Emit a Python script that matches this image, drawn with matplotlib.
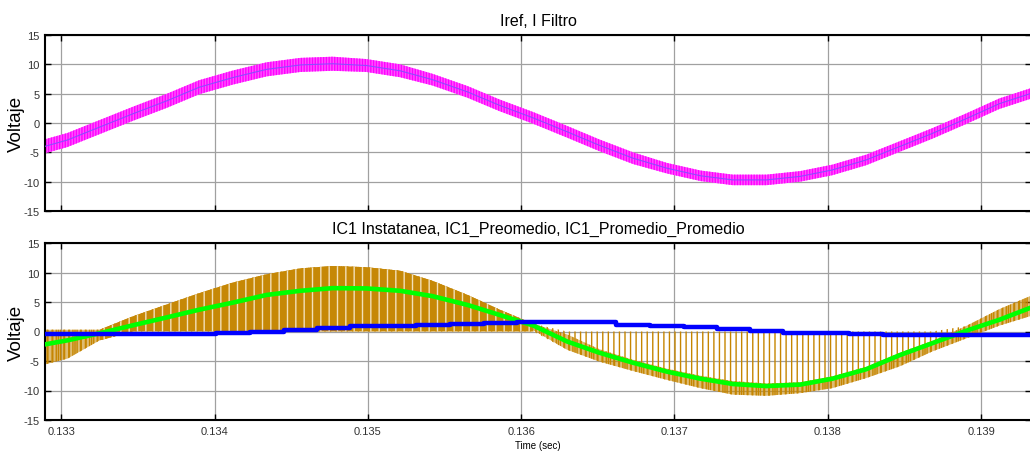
import matplotlib
matplotlib.use("Agg")
import numpy as np
import matplotlib.pyplot as plt

plt.rcParams["font.family"] = ["Liberation Sans", "DejaVu Sans"]
plt.rcParams["hatch.linewidth"] = 1.0

# instantes (s) en los que se leyeron las trazas del scope
t = [0.13289, 0.13304, 0.13325, 0.13347, 0.13369, 0.13390, 0.13412, 0.13434,
     0.13456, 0.13477, 0.13499, 0.13521, 0.13542, 0.13565, 0.13586, 0.13608,
     0.13630, 0.13651, 0.13673, 0.13695, 0.13717, 0.13738, 0.13760, 0.13782,
     0.13803, 0.13825, 0.13847, 0.13868, 0.13890, 0.13912, 0.13932]

# panel superior: Iref y rizado de I Filtro
iref = [-4.0, -2.9, -0.7, 1.6, 3.8, 6.1, 7.75, 9.15, 9.9, 10.1, 9.8, 8.9, 7.4,
        5.3, 3.0, 0.85, -1.5, -3.8, -6.0, -7.7, -9.0, -9.7, -9.7, -9.1, -8.0,
        -6.3, -4.0, -1.8, 0.7, 3.3, 5.0]
ifiltro_rizado = [1.2, 1.2, 1.2, 1.2, 1.2, 1.2, 1.2, 1.2, 1.2, 1.2, 1.1, 1.1,
                  1.0, 1.0, 1.0, 1.0, 1.0, 1.0, 1.0, 0.9, 0.9, 0.9, 0.9, 0.9,
                  0.9, 0.9, 0.9, 0.9, 0.9, 0.9, 0.9]

# panel inferior
ic1_promedio = [-2.2, -1.5, -0.3, 1.07, 2.4, 3.7, 4.9, 6.2, 6.9, 7.35, 7.3,
                6.9, 6.0, 4.5, 2.8, 1.0, -1.7, -3.6, -5.3, -6.8, -8.0, -8.9,
                -9.25, -9.0, -8.0, -6.4, -4.0, -2.0, 0.1, 2.0, 4.0]
ic1_prom_prom = [-0.45, -0.45, -0.45, -0.45, -0.45, -0.35, -0.2, -0.05, 0.25,
                 0.55, 0.85, 1.0, 1.1, 1.3, 1.45, 1.55, 1.55, 1.55, 1.15, 0.95,
                 0.7, 0.4, 0.1, -0.17, -0.3, -0.4, -0.55, -0.55, -0.55, -0.55,
                 -0.55]
# IC1 instantanea: limites de la conmutacion y de la banda de rizado
ic1_sup = [0.3, 0.3, 0.3, 2.6, 4.6, 6.5, 8.3, 9.7, 10.7, 11.1, 10.9, 10.3, 8.6,
           6.2, 3.7, 1.3, 0.0, 0.0, 0.0, 0.0, 0.0, 0.0, 0.0, 0.0, 0.0, 0.0,
           0.0, 0.0, 0.9, 3.8, 6.0]
ic1_inf = [-5.6, -4.6, -1.5, 0.0, 0.0, 0.0, 0.0, 0.0, 0.0, 0.0, 0.0, 0.0, 0.0,
           0.0, 0.0, 0.0, -3.1, -5.1, -6.7, -8.2, -9.6, -10.7, -10.9, -10.45,
           -9.6, -7.9, -5.9, -3.4, -1.2, 1.0, 2.6]
ic1_banda_sup = [0.3, 0.3, 0.3, 2.6, 4.6, 6.5, 8.3, 9.7, 10.7, 11.1, 10.9, 10.3,
                 8.6, 6.2, 3.7, 1.3, -0.5, -3.0, -4.8, -6.3, -7.5, -8.4, -8.8,
                 -8.6, -7.6, -6.0, -3.6, -1.6, 0.9, 3.8, 6.0]
ic1_banda_inf = [-5.6, -4.6, -1.5, 0.0, 1.4, 2.7, 3.9, 5.2, 5.9, 6.3, 6.3, 5.9,
                 5.0, 3.5, 1.8, 0.2, -3.1, -5.1, -6.7, -8.2, -9.6, -10.7, -10.9,
                 -10.45, -9.6, -7.9, -5.9, -3.4, -1.2, 1.0, 2.6]

x_ticks = [0.133, 0.134, 0.135, 0.136, 0.137, 0.138, 0.139]
x_labels = ["0.133", "0.134", "0.135", "0.136", "0.137", "0.138", "0.139"]
y_ticks = [-15, -10, -5, 0, 5, 10, 15]

NARANJA = "#c58500"
MAGENTA = "#ff00ff"

W, H = 1030, 456
fig = plt.figure(figsize=(W / 100, H / 100), dpi=100)
fig.patch.set_facecolor("white")

ax1 = fig.add_axes([45 / W, 1 - 212 / H, 986 / W, 176 / H])
ax2 = fig.add_axes([45 / W, 1 - 421 / H, 986 / W, 177 / H])


def estilo_scope(ax, titulo):
    ax.set_xlim(0.1328937, 0.1393255)
    ax.set_ylim(-15, 15)
    ax.set_xticks(x_ticks)
    ax.set_yticks(y_ticks)
    ax.set_yticklabels([str(v) for v in y_ticks])
    ax.grid(True, color="#a0a0a0", linewidth=0.9)
    ax.set_axisbelow(True)
    ax.tick_params(direction="in", top=True, right=True, length=4, width=1,
                   labelsize=8, labelcolor="#333333", pad=4)
    for lado in ("left", "top", "bottom"):
        ax.spines[lado].set_linewidth(1.5)
    ax.spines["right"].set_visible(False)
    ax.set_title(titulo, fontsize=11.5, pad=7)
    ax.set_ylabel("Voltaje", fontsize=13.5)
    ax.yaxis.set_label_coords(-0.020, 0.5)


# --- panel superior ---
estilo_scope(ax1, "Iref, I Filtro")
ax1.set_xticklabels([])
ifil_sup = np.array(iref) + np.array(ifiltro_rizado)
ifil_inf = np.array(iref) - np.array(ifiltro_rizado)
ax1.fill_between(t, ifil_inf, ifil_sup, facecolor="#ff55ff", edgecolor=MAGENTA,
                 hatch="||||||", linewidth=0, zorder=2)
ax1.plot(t, iref, color="#8a4dff", linewidth=0.8, zorder=3)

# --- panel inferior ---
estilo_scope(ax2, "IC1 Instatanea, IC1_Preomedio, IC1_Promedio_Promedio")
ax2.set_xticklabels(x_labels)
ax2.set_xlabel("Time (sec)", fontsize=7, labelpad=3)

t_arr = np.array(t)
semiciclo_pos = (t_arr > 0.1332) & (t_arr < 0.1362)

# pulsos de conmutacion (lineas verticales hasta cero)
ax2.fill_between(t, ic1_inf, ic1_sup, facecolor="none",
                 edgecolor=NARANJA, hatch="|||", linewidth=0, zorder=2)
# banda de rizado junto a la envolvente
ax2.fill_between(t, ic1_banda_inf, ic1_banda_sup,
                 facecolor=(0.77, 0.52, 0.0, 0.55), edgecolor=NARANJA,
                 hatch="||||", linewidth=0, zorder=2)
# semiciclo positivo: casi macizo, con rendijas claras
ax2.fill_between(t, ic1_inf, ic1_sup, where=semiciclo_pos, facecolor="#c68806",
                 edgecolor="#f3e0b8", hatch="||", linewidth=0, zorder=3)
ax2.plot(t, ic1_promedio, color="#00ff00", linewidth=3.3, zorder=4)
ax2.plot(t, ic1_prom_prom, color="#0000ff", linewidth=3.2, drawstyle="steps-mid",
         zorder=5)

fig.savefig("out.png", dpi=100, facecolor="white")
